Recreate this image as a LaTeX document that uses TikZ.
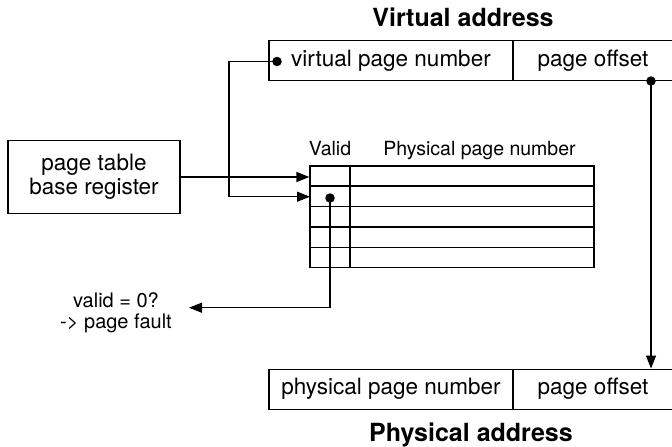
\documentclass[tikz,border=0pt]{standalone}
\usepackage{fontspec}
\setmainfont{TeX Gyre Heros}
\usetikzlibrary{arrows.meta,calc}
\begin{document}
\begin{tikzpicture}[x=1pt,y=-1pt,
  lw/.style={line width=1.3pt},
  box/.style={draw, lw, minimum height=40pt, inner sep=0pt, font=\fontsize{22.5}{24}\selectfont},
  hdr/.style={inner sep=0pt, anchor=base, font=\fontsize{19.5}{23}\selectfont},
  ftxt/.style={inner sep=0pt, align=center, font=\fontsize{20}{21}\selectfont},
  ttl/.style={inner sep=0pt, anchor=base, font=\fontsize{25}{28}\selectfont\bfseries},
  arr/.style={lw, -{Triangle[length=13pt,width=10pt]}},
  dotn/.style={circle, fill, inner sep=0pt, minimum size=9.5pt}]
\useasboundingbox (0,0) rectangle (672,447);
\clip (0,0) rectangle (672,447);
% virtual address
\node[ttl] (vtitle) at (463,27) {Virtual address};
\node[box, minimum width=244pt] (vpn) at (391,60.7) {virtual page number};
\node[box, minimum width=160pt] (voff) at (593,60.7) {page offset};
% page table base register
\node[box, minimum width=172pt, minimum height=73pt, align=center] (ptbr) at (94,177) {page table\\base register};
% page table
\node[hdr] (validlbl) at (330,155) {Valid};
\node[hdr] (ppnlbl) at (479.5,155) {Physical page number};
\node[draw, lw, minimum width=284pt, minimum height=101.3pt, inner sep=0pt] (pt) at (452,216.65) {};
\foreach \i in {1,...,4}
  \draw[lw] ($(pt.north west)!\i/5!(pt.south west)$) -- ($(pt.north east)!\i/5!(pt.south east)$);
\draw[lw] ($(pt.north west)+(40.7,0)$) -- ($(pt.south west)+(40.7,0)$);
% fault text
\node[ftxt] (fault) at (116,313) {valid = 0?\\-> page fault};
% physical address
\node[box, minimum width=244pt] (ppn) at (391,389.2) {physical page number};
\node[box, minimum width=160pt] (poff) at (593,389.2) {page offset};
\node[ttl] (ptitle) at (471,441) {Physical address};
% dots
\node[dotn] (d1) at (277,61.5) {};
\node[dotn] (d2) at (651,81) {};
\node[dotn] (d3) at (330,198) {};
% coordinates
\coordinate (r2) at (310,196.7);
\coordinate (bend1) at (229,61.5);
\coordinate (ftip) at (189,307.7);
% connectors
\draw[arr] (ptbr.east) -- (pt.west |- ptbr.east);
\draw[arr] (d1.center) -- (bend1) |- (r2);
\draw[arr] (d2.center) -- (d2.center |- poff.north);
\draw[arr] (d3.center) |- (ftip);
\end{tikzpicture}
\end{document}
